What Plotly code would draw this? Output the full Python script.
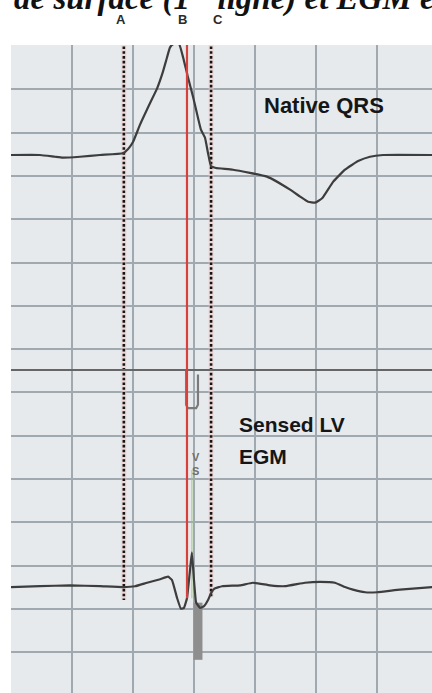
import plotly.graph_objects as go

# ---- data (time in ms, amplitude in mV; one major box = 200 ms x 0.5 mV) ----
top_t = [0, 95, 144, 170, 226, 292, 367, 384, 400, 423, 456, 479, 498, 511, 521, 531,
         551, 564, 580, 597, 613, 623, 636, 646, 656, 672, 728, 839, 915, 948, 974, 997,
         1020, 1056, 1095, 1138, 1177, 1220, 1381]
top_mv = [0.00, 0.00, -0.02, -0.03, -0.02, 0.00, 0.02, 0.07, 0.15, 0.35, 0.60, 0.77, 0.96,
          1.12, 1.24, 1.28, 1.28, 1.13, 0.90, 0.67, 0.43, 0.29, 0.20, 0.02, -0.13, -0.15,
          -0.17, -0.25, -0.40, -0.48, -0.54, -0.55, -0.50, -0.31, -0.17, -0.07, -0.02, 0.00, 0.00]

egm_t = [0, 1381]
egm_mv = [0.0, 0.0]
sense_t = [574, 574, 580, 607, 613, 613]
sense_mv = [-0.01, -0.40, -0.44, -0.44, -0.40, -0.05]

bot_t = [0, 95, 193, 292, 367, 407, 446, 489, 515, 528, 544, 557, 567, 577, 587, 593, 600,
         607, 620, 633, 646, 656, 666, 692, 751, 793, 849, 898, 964, 1013, 1062, 1095, 1121,
         1161, 1200, 1275, 1381]
bot_mv = [0.00, 0.01, 0.02, 0.01, 0.00, 0.01, 0.05, 0.09, 0.12, 0.08, -0.12, -0.25, -0.24,
          -0.13, 0.20, 0.40, 0.08, -0.18, -0.24, -0.22, -0.15, -0.07, -0.02, 0.01, 0.02, 0.05,
          0.02, 0.01, 0.05, 0.06, 0.05, 0.00, -0.03, -0.06, -0.06, -0.03, 0.00]
bar_t = [613, 613]
bar_mv = [-0.18, -0.84]

marker_labels = ["A", "B", "C"]
marker_t = [370, 577, 656]
label_t = [361, 561, 679]

# lane baselines in grid boxes (0 = top grid line)
TOP, MID, BOT = -2.517, -7.483, -12.494
MV_PER_BOX = 0.5


def lane(base, mv):
    return [base + v / MV_PER_BOX for v in mv]


fig = go.Figure()

# dotted cursor lines A and C (pink halo + black dots)
for t, yb in [(marker_t[0], -12.79), (marker_t[2], -12.73)]:
    fig.add_trace(go.Scatter(x=[t, t], y=[0.1, yb], mode="lines",
                             line=dict(color="rgba(242,196,196,0.55)", width=5),
                             hoverinfo="skip", showlegend=False))
    fig.add_trace(go.Scatter(x=[t, t], y=[0.1, yb], mode="lines",
                             line=dict(color="#151515", width=2.6, dash="2.6px,2.2px"),
                             hoverinfo="skip", showlegend=False))

# faint green line near B
fig.add_trace(go.Scatter(x=[593, 593], y=[-9.79, -12.75], mode="lines",
                         line=dict(color="rgba(150,200,120,0.6)", width=1.5),
                         hoverinfo="skip", showlegend=False))

# traces
fig.add_trace(go.Scatter(x=top_t, y=lane(TOP, top_mv), mode="lines",
                         line=dict(color="#3d3d3d", width=2.2, shape="spline", smoothing=0.4),
                         showlegend=False))
fig.add_trace(go.Scatter(x=egm_t, y=lane(MID, egm_mv), mode="lines",
                         line=dict(color="#666666", width=2), showlegend=False))
fig.add_trace(go.Scatter(x=sense_t, y=lane(MID, sense_mv), mode="lines",
                         line=dict(color="#7a7a7a", width=2.2), showlegend=False))
fig.add_trace(go.Scatter(x=bar_t, y=lane(BOT, bar_mv), mode="lines",
                         line=dict(color="#8e8e8e", width=9), showlegend=False))
fig.add_trace(go.Scatter(x=bot_t, y=lane(BOT, bot_mv), mode="lines",
                         line=dict(color="#3d3d3d", width=2.2, shape="spline", smoothing=0.3),
                         showlegend=False))

# red cursor B
fig.add_trace(go.Scatter(x=[marker_t[1], marker_t[1]], y=[0.1, BOT - 0.13 / MV_PER_BOX],
                         mode="lines", line=dict(color="#d8403c", width=2.2),
                         hoverinfo="skip", showlegend=False))

ann = []
# cropped title line
ann.append(dict(x=3, xref="x", y=(693 - 19) / 648, yref="paper",
                xanchor="left", yanchor="bottom", showarrow=False,
                text="de surface (1<sup>re</sup> ligne) et EGM en",
                font=dict(family="Liberation Serif", size=33, color="#111111",
                          weight="bold", style="italic")))
for lab, t in zip(marker_labels, label_t):
    ann.append(dict(x=t, xref="x", y=(693 - 19) / 648, yref="paper",
                    xanchor="center", yanchor="middle", showarrow=False, text=lab,
                    font=dict(family="Liberation Sans", size=13, color="#2a2a2a", weight="bold")))
ann.append(dict(x=823, y=-1.363, xanchor="left", yanchor="middle", showarrow=False,
                text="Native QRS",
                font=dict(family="Liberation Sans", size=22, color="#161616", weight="bold")))
ann.append(dict(x=741, y=-8.73, xanchor="left", yanchor="middle", showarrow=False,
                text="Sensed LV",
                font=dict(family="Liberation Sans", size=21, color="#161616", weight="bold")))
ann.append(dict(x=741, y=-9.49, xanchor="left", yanchor="middle", showarrow=False,
                text="EGM",
                font=dict(family="Liberation Sans", size=21, color="#161616", weight="bold")))
ann.append(dict(x=607, y=-9.65, xanchor="center", yanchor="middle", showarrow=False,
                text="V<br>S",
                font=dict(family="Liberation Sans", size=11, color="#6f6f6f", weight="bold")))

fig.update_layout(
    width=432, height=693,
    margin=dict(l=11, r=0, t=45, b=0, autoexpand=False),
    paper_bgcolor="white", plot_bgcolor="#e7eaed",
    annotations=ann,
    xaxis=dict(range=[0, 1380.3], showgrid=True, gridcolor="#a0a8b0", gridwidth=2,
               tick0=0, dtick=200, zeroline=False, showticklabels=False, ticks="",
               showline=False, fixedrange=True),
    yaxis=dict(range=[-14.94, 0.023], showgrid=True, gridcolor="#a0a8b0", gridwidth=2,
               tick0=0, dtick=1, zeroline=False, showticklabels=False, ticks="",
               showline=False, fixedrange=True),
)

fig.write_html(
    "out.html",
    config={"displayModeBar": False},
    post_script="document.body.style.margin='0';document.body.style.overflow='hidden';",
)
